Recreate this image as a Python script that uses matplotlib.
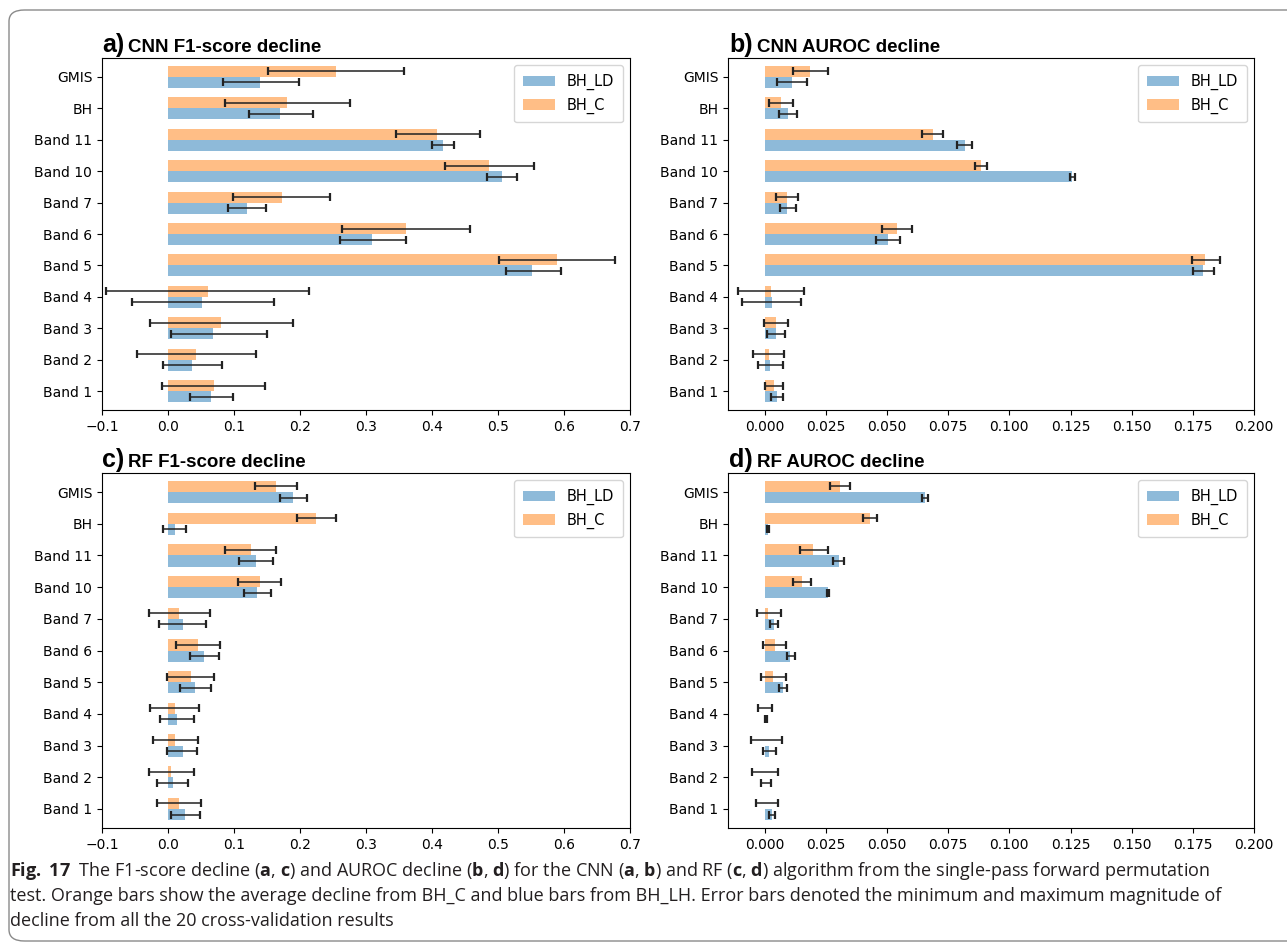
import numpy as np
import matplotlib
matplotlib.use("Agg")
import matplotlib.pyplot as plt
from matplotlib.patches import FancyBboxPatch

# feature names, bottom to top as drawn on the y axis
features = ["Band 1", "Band 2", "Band 3", "Band 4", "Band 5", "Band 6",
            "Band 7", "Band 10", "Band 11", "BH", "GMIS"]

# CNN F1-score decline
cnn_f1_ld_mean = [0.065, 0.036, 0.068, 0.051, 0.552, 0.309, 0.119, 0.506, 0.417, 0.170, 0.140]
cnn_f1_ld_min = [0.034, -0.007, 0.005, -0.055, 0.512, 0.260, 0.091, 0.484, 0.400, 0.123, 0.083]
cnn_f1_ld_max = [0.098, 0.082, 0.150, 0.160, 0.595, 0.360, 0.148, 0.529, 0.433, 0.219, 0.198]
cnn_f1_c_mean = [0.069, 0.043, 0.081, 0.060, 0.590, 0.360, 0.172, 0.487, 0.408, 0.180, 0.254]
cnn_f1_c_min = [-0.009, -0.047, -0.027, -0.094, 0.502, 0.263, 0.098, 0.419, 0.346, 0.087, 0.152]
cnn_f1_c_max = [0.147, 0.133, 0.190, 0.214, 0.677, 0.457, 0.246, 0.555, 0.473, 0.275, 0.358]

# CNN AUROC decline
cnn_auc_ld_mean = [0.0049, 0.0020, 0.0047, 0.0029, 0.1790, 0.0503, 0.0093, 0.1257, 0.0818, 0.0095, 0.0111]
cnn_auc_ld_min = [0.0027, -0.0029, 0.0010, -0.0093, 0.1750, 0.0456, 0.0064, 0.1247, 0.0787, 0.0057, 0.0049]
cnn_auc_ld_max = [0.0074, 0.0073, 0.0083, 0.0150, 0.1836, 0.0552, 0.0127, 0.1270, 0.0848, 0.0133, 0.0174]
cnn_auc_c_mean = [0.0040, 0.0019, 0.0047, 0.0024, 0.1800, 0.0540, 0.0090, 0.0883, 0.0688, 0.0066, 0.0184]
cnn_auc_c_min = [0.0003, -0.0046, -0.0002, -0.0110, 0.1747, 0.0480, 0.0047, 0.0858, 0.0645, 0.0017, 0.0117]
cnn_auc_c_max = [0.0076, 0.0079, 0.0096, 0.0159, 0.1860, 0.0603, 0.0135, 0.0909, 0.0730, 0.0115, 0.0260]

# RF F1-score decline
rf_f1_ld_mean = [0.026, 0.007, 0.022, 0.014, 0.041, 0.055, 0.022, 0.135, 0.133, 0.010, 0.190]
rf_f1_ld_min = [0.005, -0.016, -0.001, -0.012, 0.018, 0.033, -0.014, 0.115, 0.107, -0.007, 0.169]
rf_f1_ld_max = [0.048, 0.031, 0.044, 0.039, 0.065, 0.078, 0.057, 0.156, 0.159, 0.028, 0.210]
rf_f1_c_mean = [0.016, 0.004, 0.011, 0.010, 0.035, 0.045, 0.016, 0.139, 0.125, 0.224, 0.163]
rf_f1_c_min = [-0.017, -0.029, -0.022, -0.027, -0.001, 0.012, -0.029, 0.106, 0.087, 0.196, 0.132]
rf_f1_c_max = [0.050, 0.040, 0.046, 0.047, 0.070, 0.079, 0.064, 0.171, 0.163, 0.254, 0.196]

# RF AUROC decline
rf_auc_ld_mean = [0.0029, 0.0002, 0.0019, 0.0002, 0.0076, 0.0105, 0.0037, 0.0258, 0.0302, 0.0012, 0.0655]
rf_auc_ld_min = [0.0017, -0.0014, -0.0008, 0.0000, 0.0057, 0.0090, 0.0022, 0.0253, 0.0280, 0.0008, 0.0645]
rf_auc_ld_max = [0.0042, 0.0025, 0.0047, 0.0008, 0.0093, 0.0122, 0.0056, 0.0264, 0.0326, 0.0017, 0.0666]
rf_auc_c_mean = [0.0003, 0.0001, 0.0003, 0.0002, 0.0035, 0.0042, 0.0015, 0.0152, 0.0199, 0.0429, 0.0309]
rf_auc_c_min = [-0.0037, -0.0051, -0.0056, -0.0027, -0.0014, -0.0007, -0.0032, 0.0117, 0.0145, 0.0402, 0.0267]
rf_auc_c_max = [0.0054, 0.0054, 0.0069, 0.0030, 0.0088, 0.0088, 0.0066, 0.0188, 0.0258, 0.0459, 0.0348]

f1_ticks = [-0.1, 0.0, 0.1, 0.2, 0.3, 0.4, 0.5, 0.6, 0.7]
auc_ticks = [0.000, 0.025, 0.050, 0.075, 0.100, 0.125, 0.150, 0.175, 0.200]

W, H = 1287, 944
fig = plt.figure(figsize=(W / 100, H / 100), dpi=100)
plt.rcParams["mathtext.fontset"] = "custom"
plt.rcParams["mathtext.rm"] = "Open Sans"
plt.rcParams["mathtext.bf"] = "Open Sans:bold"

BLUE = (0.122, 0.467, 0.706, 0.5)
ORANGE = (1.0, 0.498, 0.055, 0.5)


def px_axes(x0, y0, x1, y1):
    """Axes from pixel box (left, top, right, bottom)."""
    return fig.add_axes([x0 / W, 1 - y1 / H, (x1 - x0) / W, (y1 - y0) / H])


def tick_text(t, fmt):
    s = fmt.format(t)
    return s.replace("-", "\u2212")


def draw_panel(ax, ld_mean, ld_min, ld_max, c_mean, c_min, c_max, xlim, ticks, fmt):
    y = np.arange(len(features))
    h = 0.35
    err_style = dict(ecolor="#222222", elinewidth=1.1, capsize=3, capthick=1.6)
    ld_err = [np.subtract(ld_mean, ld_min), np.subtract(ld_max, ld_mean)]
    c_err = [np.subtract(c_mean, c_min), np.subtract(c_max, c_mean)]
    ax.barh(y - h / 2, ld_mean, h, xerr=ld_err, color=BLUE, label="BH_LD", error_kw=err_style)
    ax.barh(y + h / 2, c_mean, h, xerr=c_err, color=ORANGE, label="BH_C", error_kw=err_style)
    ax.set_yticks(y)
    ax.set_yticklabels(features, fontsize=10)
    ax.set_xticks(ticks)
    ax.set_xticklabels([tick_text(t, fmt) for t in ticks], fontsize=10)
    ax.set_xlim(*xlim)
    ax.set_ylim(-0.6, len(features) - 0.4)
    ax.legend(loc="upper right", fontsize=10.5, borderpad=0.6, handlelength=2.2)


def panel_title(letter, text, x, y):
    lab = fig.text(x / W, 1 - y / H, letter, fontsize=18, fontweight="bold",
                   family="Liberation Sans", va="baseline")
    fig.canvas.draw()
    bb = lab.get_window_extent()
    fig.text((bb.x1 + 4) / W, 1 - y / H, text, fontsize=13.5, fontweight="bold",
             family="Liberation Sans", va="baseline")


ax_a = px_axes(102, 58, 630, 410)
ax_b = px_axes(728, 58, 1254, 410)
ax_c = px_axes(102, 473, 630, 828)
ax_d = px_axes(728, 473, 1254, 828)

draw_panel(ax_a, cnn_f1_ld_mean, cnn_f1_ld_min, cnn_f1_ld_max,
           cnn_f1_c_mean, cnn_f1_c_min, cnn_f1_c_max, (-0.1, 0.7), f1_ticks, "{:.1f}")
draw_panel(ax_b, cnn_auc_ld_mean, cnn_auc_ld_min, cnn_auc_ld_max,
           cnn_auc_c_mean, cnn_auc_c_min, cnn_auc_c_max, (-0.015, 0.2), auc_ticks, "{:.3f}")
draw_panel(ax_c, rf_f1_ld_mean, rf_f1_ld_min, rf_f1_ld_max,
           rf_f1_c_mean, rf_f1_c_min, rf_f1_c_max, (-0.1, 0.7), f1_ticks, "{:.1f}")
draw_panel(ax_d, rf_auc_ld_mean, rf_auc_ld_min, rf_auc_ld_max,
           rf_auc_c_mean, rf_auc_c_min, rf_auc_c_max, (-0.015, 0.2), auc_ticks, "{:.3f}")

panel_title("a)", "CNN F1-score decline", 102, 52)
panel_title("b)", "CNN AUROC decline", 729, 52)
panel_title("c)", "RF F1-score decline", 102, 467)
panel_title("d)", "RF AUROC decline", 729, 467)

# caption under the four panels
cap_kw = dict(fontsize=13, family="Open Sans", color="#231f20", va="baseline")
fig.text(10 / W, 1 - 876 / H,
         r"$\mathbf{Fig.}$ $\mathbf{17}$  The F1-score decline ($\mathbf{a}$, $\mathbf{c}$) and AUROC decline "
         r"($\mathbf{b}$, $\mathbf{d}$) for the CNN ($\mathbf{a}$, $\mathbf{b}$) and RF "
         r"($\mathbf{c}$, $\mathbf{d}$) algorithm from the single-pass forward permutation", **cap_kw)
fig.text(10 / W, 1 - 901 / H,
         "test. Orange bars show the average decline from BH_C and blue bars from BH_LH. "
         "Error bars denoted the minimum and maximum magnitude of", **cap_kw)
fig.text(10 / W, 1 - 926 / H,
         "decline from all the 20 cross-validation results", **cap_kw)

# rounded frame around the whole figure
frame = FancyBboxPatch((9 / W, 3 / H), 1.2, 1 - 13 / H, boxstyle="round,pad=0,rounding_size=0.012",
                       transform=fig.transFigure, fill=False, edgecolor="#8a8a8a", linewidth=1.0)
fig.patches.append(frame)

fig.savefig("out.png", dpi=100)
